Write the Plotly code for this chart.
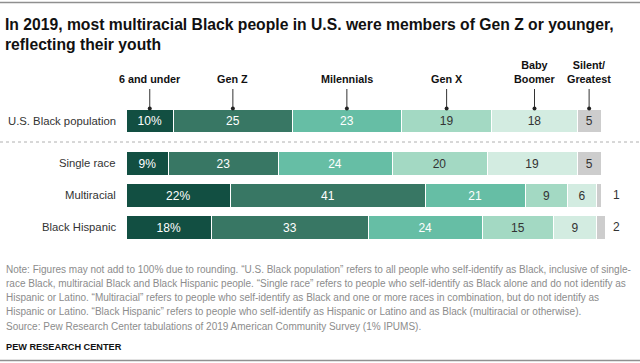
import plotly.graph_objects as go

# ---- data ----
groups_top = ["U.S. Black population"]
groups_bottom = ["Single race", "Multiracial", "Black Hispanic"]
generations = ["6 and under", "Gen Z", "Milennials", "Gen X", "Baby Boomer", "Silent/Greatest"]
gen_labels = ["6 and under", "Gen Z", "Milennials", "Gen X", "Baby<br>Boomer", "Silent/<br>Greatest"]

six_and_under = [10, 9, 22, 18]
gen_z = [25, 23, 41, 33]
millennials = [23, 24, 21, 24]
gen_x = [19, 20, 9, 15]
baby_boomer = [18, 19, 6, 9]
silent_greatest = [5, 5, 1, 2]

series = [six_and_under, gen_z, millennials, gen_x, baby_boomer, silent_greatest]
colors = ["#124f42", "#387764", "#66bea5", "#a3d9c3", "#d3ece1", "#cdcdcd"]
text_colors = ["white", "white", "white", "#333333", "#333333", "#333333"]

note_lines = [
    "Note: Figures may not add to 100% due to rounding. “U.S. Black population” refers to all people who self-identify as Black, inclusive of single-",
    "race Black, multiracial Black and Black Hispanic people. “Single race” refers to people who self-identify as Black alone and do not identify as",
    "Hispanic or Latino. “Multiracial” refers to people who self-identify as Black and one or more races in combination, but do not identify as",
    "Hispanic or Latino. “Black Hispanic” refers to people who self-identify as Hispanic or Latino and as Black (multiracial or otherwise).",
    "Source: Pew Research Center tabulations of 2019 American Community Survey (1% IPUMS).",
]
title_text = "In 2019, most multiracial Black people in U.S. were members of Gen Z or younger,<br>reflecting their youth"

# ---- layout helpers ----
W, H = 640, 363
def py(p):
    return 1 - p / H

X0, PXU = 126, 4.75  # bar start pixel, pixels per unit
XMAX = 102
xdom = [X0 / W, (X0 + XMAX * PXU) / W]

SANS = "Liberation Sans, Arial, sans-serif"
fig = go.Figure()

for gi, (name, vals, col, tcol) in enumerate(zip(generations, series, colors, text_colors)):
    texts = []
    for v in vals:
        if gi == 5 and v < 3:
            texts.append("")
        elif gi == 0:
            texts.append(f"{v}%")
        else:
            texts.append(str(v))
    common = dict(
        orientation="h", name=name, marker=dict(color=col, line=dict(color="white", width=1)),
        textposition="inside", insidetextanchor="middle", textangle=0,
        textfont=dict(family=SANS, size=12, color=tcol), showlegend=False,
        hoverinfo="x+y+name", constraintext="none",
    )
    fig.add_trace(go.Bar(y=groups_top, x=vals[:1], text=texts[:1], xaxis="x", yaxis="y", **common))
    fig.add_trace(go.Bar(y=groups_bottom, x=vals[1:], text=texts[1:], xaxis="x2", yaxis="y2", **common))

annotations = []
shapes = []

# row labels
for g in groups_top:
    annotations.append(dict(x=(X0 - 8) / W, xref="paper", y=g, yref="y", text=g, showarrow=False,
                            xanchor="right", font=dict(family=SANS, size=11.3, color="#333333")))
for g in groups_bottom:
    annotations.append(dict(x=(X0 - 8) / W, xref="paper", y=g, yref="y2", text=g, showarrow=False,
                            xanchor="right", font=dict(family=SANS, size=11.3, color="#333333")))

# small outside values for silent
for ri, g in enumerate(groups_bottom):
    v = silent_greatest[ri + 1]
    if v < 3:
        annotations.append(dict(x=100, xref="x2", y=g, yref="y2", text=str(v), showarrow=False,
                                xanchor="left", xshift=10,
                                font=dict(family=SANS, size=12, color="#333333")))

# generation labels with leader lines
cum = 0
for lab, vals in zip(gen_labels, series):
    v = vals[0]
    c = cum + v / 2
    cum += v
    annotations.append(dict(x=c, xref="x", y=py(87), yref="paper", text=f"<b>{lab}</b>", showarrow=False,
                            xanchor="center", yanchor="bottom", align="center",
                            font=dict(family=SANS, size=10.8, color="#111111")))
    shapes.append(dict(type="line", xref="x", yref="paper", x0=c, x1=c, y0=py(89), y1=py(108),
                       line=dict(color="#333333", width=1)))
    shapes.append(dict(type="circle", xref="x", yref="paper", xsizemode="pixel", ysizemode="pixel",
                       xanchor=c, yanchor=py(108.5), x0=-2, x1=2, y0=-2, y1=2,
                       fillcolor="#222222", line=dict(width=0)))

# title
annotations.append(dict(x=3 / W, xref="paper", y=py(14), yref="paper", text=f"<b>{title_text}</b>",
                        showarrow=False, xanchor="left", yanchor="top", align="left",
                        font=dict(family=SANS, size=15.7, color="#111111")))
# notes
for i, line in enumerate(note_lines):
    annotations.append(dict(x=4 / W, xref="paper", y=py(269 + 14.3 * i), yref="paper", text=line,
                            showarrow=False, xanchor="left", yanchor="middle", align="left",
                            font=dict(family=SANS, size=10, color="#8c8c8c")))
annotations.append(dict(x=4 / W, xref="paper", y=py(347), yref="paper", text="<b>PEW RESEARCH CENTER</b>",
                        showarrow=False, xanchor="left", yanchor="middle",
                        font=dict(family=SANS, size=9.2, color="#111111")))

# rules
shapes.append(dict(type="line", xref="paper", yref="paper", x0=0, x1=1, y0=py(2.5), y1=py(2.5),
                   line=dict(color="#8f8f8f", width=1.5)))
shapes.append(dict(type="line", xref="paper", yref="paper", x0=0, x1=1, y0=py(360.5), y1=py(360.5),
                   line=dict(color="#8f8f8f", width=1.5)))
shapes.append(dict(type="line", xref="paper", yref="paper", x0=0, x1=1, y0=py(142), y1=py(142),
                   line=dict(color="#b0b0b0", width=1, dash="dot")))

fig.update_layout(
    width=W, height=H, margin=dict(l=0, r=0, t=0, b=0),
    paper_bgcolor="white", plot_bgcolor="white",
    barmode="stack", bargap=0.28,
    xaxis=dict(domain=xdom, range=[0, XMAX], visible=False, fixedrange=True),
    xaxis2=dict(domain=xdom, range=[0, XMAX], visible=False, anchor="y2", fixedrange=True),
    yaxis=dict(domain=[py(137), py(105)], visible=False, autorange="reversed", type="category"),
    yaxis2=dict(domain=[py(243.5), py(147.5)], visible=False, autorange="reversed", type="category", anchor="x2"),
    annotations=annotations, shapes=shapes,
)

fig.write_html("out.html", config={"displayModeBar": False},
               post_script="document.body.style.margin='0';document.body.style.padding='0';")
